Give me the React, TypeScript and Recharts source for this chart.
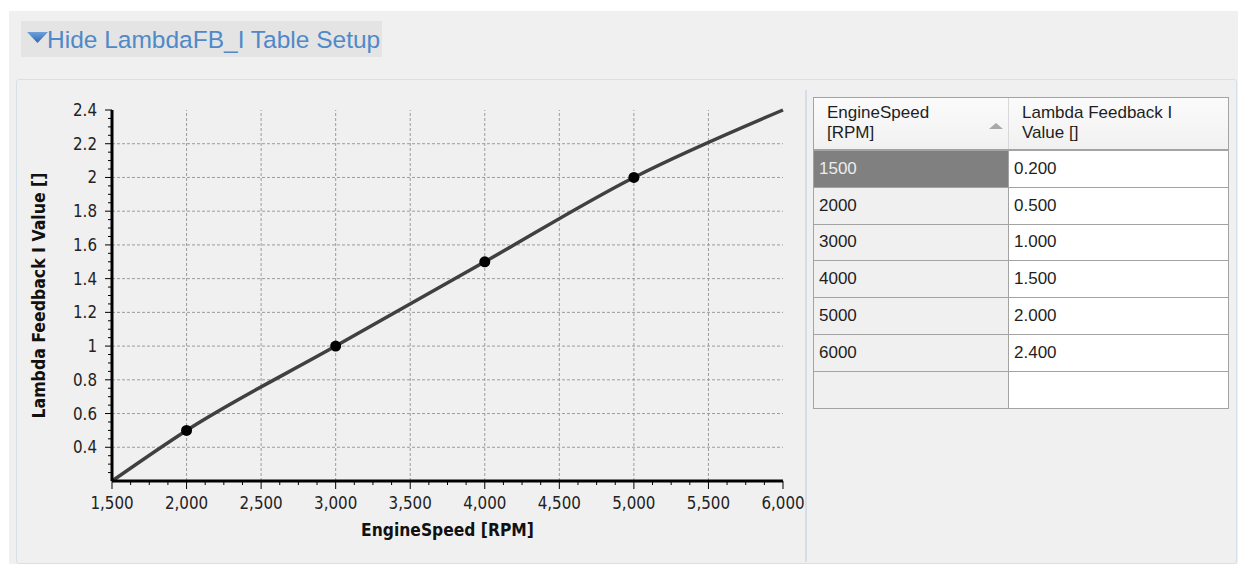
import React from "react"
import { Label, Line, LineChart, ReferenceLine, XAxis, YAxis } from "recharts"

const rpm = [1500, 2000, 3000, 4000, 5000, 6000]
const lambdaI = [0.2, 0.5, 1.0, 1.5, 2.0, 2.4]

const xTicks = [1500, 2000, 2500, 3000, 3500, 4000, 4500, 5000, 5500, 6000]
const yTicks = [0.4, 0.6, 0.8, 1, 1.2, 1.4, 1.6, 1.8, 2, 2.2, 2.4]
const xGrid = [2000, 2500, 3000, 3500, 4000, 4500, 5000, 5500]
const yGrid = [0.4, 0.6, 0.8, 1, 1.2, 1.4, 1.6, 1.8, 2, 2.2]

// minor ticks: every 125 rpm, every 0.05 on the value axis
const xMinor = Array.from({ length: 37 }, (_, i) => 1500 + i * 125).filter((v) => v % 500 !== 0)
const yMinor = Array.from({ length: 45 }, (_, i) => Math.round((0.2 + i * 0.05) * 100) / 100).filter(
  (v) => Math.round(v * 100) % 20 !== 0
)
const xAll = [...xTicks, ...xMinor].sort((a, b) => a - b)
const yAll = [...yTicks, ...yMinor].sort((a, b) => a - b)

const data = rpm.map((r, i) => ({ rpm: r, value: lambdaI[i] }))

const axisFont = "'DejaVu Sans Condensed', 'Liberation Sans', sans-serif"
const uiFont = "'Liberation Sans', Arial, sans-serif"

const X_TS = 8
const X_TM = 8
const Y_TS = 7
const Y_TM = 8

function XTick(props: any) {
  const { x, y, payload } = props
  const major = xTicks.includes(payload.value)
  const axisY = y - X_TS - X_TM
  return (
    <g>
      <line x1={x} x2={x} y1={axisY} y2={axisY + (major ? X_TS : 4)} stroke="#000" />
      {major && (
        <text x={x} y={y} dy="0.71em" textAnchor="middle" fontFamily={axisFont} fontSize={16.8} fill="#222">
          {payload.value.toLocaleString("en-US")}
        </text>
      )}
    </g>
  )
}

function YTick(props: any) {
  const { x, y, payload } = props
  const major = yTicks.includes(payload.value)
  const axisX = x + Y_TS + Y_TM
  return (
    <g>
      <line x1={axisX} x2={axisX - (major ? Y_TS : 4)} y1={y} y2={y} stroke="#000" />
      {major && (
        <text x={x} y={y} dy="0.355em" textAnchor="end" fontFamily={axisFont} fontSize={16.8} fill="#222">
          {String(payload.value)}
        </text>
      )}
    </g>
  )
}

function Dot(props: any) {
  const { cx, cy, index } = props
  if (index === 0 || index === data.length - 1) return <g key={"d" + index} />
  return <circle key={"d" + index} cx={cx} cy={cy} r={5.5} fill="#000" />
}

function ValueTable() {
  const border = "1px solid #a3a3a3"
  const rows = rpm.map((r, i) => [String(r), lambdaI[i].toFixed(3)])
  rows.push(["", ""])
  return (
    <div style={{ position: "absolute", left: 813, top: 97, width: 416, fontFamily: uiFont, fontSize: 17, color: "#1e1e1e" }}>
      <div style={{ display: "flex", height: 54, borderTop: border, borderLeft: border, borderRight: border, borderBottom: "2px solid #a3a3a3", background: "linear-gradient(#fbfbfb, #f1f1f1)", boxSizing: "border-box" }}>
        <div style={{ position: "relative", width: 195, borderRight: "1px solid #d8d8d8", padding: "5px 0 0 13px", lineHeight: "20px", boxSizing: "border-box" }}>
          EngineSpeed<br />[RPM]
          <div style={{ position: "absolute", left: 175, top: 25, width: 0, height: 0, borderLeft: "7px solid transparent", borderRight: "7px solid transparent", borderBottom: "6px solid #a9a9a9" }} />
        </div>
        <div style={{ flex: 1, padding: "5px 0 0 13px", lineHeight: "20px", boxSizing: "border-box" }}>
          Lambda Feedback I<br />Value []
        </div>
      </div>
      {rows.map((row, i) => (
        <div key={i} style={{ display: "flex", height: 36.8, borderLeft: border, borderRight: border, borderBottom: border, boxSizing: "border-box" }}>
          <div style={{ width: 195, borderRight: border, background: i === 0 ? "#808080" : "#f0f0f0", color: i === 0 ? "#ececec" : "#1e1e1e", display: "flex", alignItems: "center", paddingLeft: 5, boxSizing: "border-box" }}>
            {row[0]}
          </div>
          <div style={{ flex: 1, background: "#fff", display: "flex", alignItems: "center", paddingLeft: 5 }}>{row[1]}</div>
        </div>
      ))}
    </div>
  )
}

export default function App() {
  return (
    <div style={{ position: "absolute", left: 0, top: 0, width: 1238, height: 564, background: "#fff", overflow: "hidden" }}>
      <div style={{ position: "absolute", left: 9, top: 11, right: 0, bottom: 0, background: "#f0f0f0" }} />
      {/* collapsible header */}
      <div style={{ position: "absolute", left: 21, top: 21, width: 361, height: 36, background: "#e4e4e4" }}>
        <svg width={22} height={14} style={{ position: "absolute", left: 6, top: 11 }}>
          <defs>
            <linearGradient id="tri" x1="0" y1="0" x2="0" y2="1">
              <stop offset="0%" stopColor="#6fa2dc" />
              <stop offset="100%" stopColor="#2f66b0" />
            </linearGradient>
          </defs>
          <polygon points="0,0 21,0 10.5,11" fill="url(#tri)" />
        </svg>
        <div style={{ position: "absolute", left: 26, top: 5, fontFamily: uiFont, fontSize: 24.5, color: "#5089c8", whiteSpace: "nowrap" }}>
          Hide LambdaFB_I Table Setup
        </div>
      </div>
      {/* panel */}
      <div style={{ position: "absolute", left: 16, top: 79, width: 1219, height: 483, border: "1px solid #d6e0e9", borderRadius: 3, background: "#f0f0f0" }} />
      <div style={{ position: "absolute", left: 805, top: 90, width: 2, height: 472, background: "#d3deea" }} />

      <div style={{ position: "absolute", left: 20, top: 90 }}>
        <LineChart width={790} height={470} data={data} margin={{ top: 20, right: 27, bottom: 19, left: 0 }}>
          {yGrid.map((v) => (
            <ReferenceLine key={"h" + v} y={v} stroke="#9c9c9c" strokeDasharray="3 2" />
          ))}
          {xGrid.map((v) => (
            <ReferenceLine key={"v" + v} x={v} stroke="#9c9c9c" strokeDasharray="3 2" />
          ))}
          <XAxis
            dataKey="rpm"
            type="number"
            domain={[1500, 6000]}
            ticks={xAll}
            interval={0}
            height={60}
            tickSize={X_TS}
            tickMargin={X_TM}
            tick={<XTick />}
            tickLine={false}
            axisLine={{ stroke: "#000", strokeWidth: 3 }}
          >
            <Label
              content={({ viewBox }: any) => (
                <text x={viewBox.x + viewBox.width / 2} y={viewBox.y + 55} textAnchor="middle" fontFamily={axisFont} fontWeight="bold" fontSize={17.3} fill="#111">
                  EngineSpeed [RPM]
                </text>
              )}
            />
          </XAxis>
          <YAxis
            type="number"
            domain={[0.2, 2.4]}
            ticks={yAll}
            interval={0}
            width={92}
            tickSize={Y_TS}
            tickMargin={Y_TM}
            tick={<YTick />}
            tickLine={false}
            axisLine={{ stroke: "#000", strokeWidth: 3 }}
          >
            <Label
              content={({ viewBox }: any) => {
                const cx = viewBox.x + 20
                const cy = viewBox.y + viewBox.height / 2
                return (
                  <text x={cx} y={cy} transform={`rotate(-90 ${cx} ${cy})`} textAnchor="middle" dominantBaseline="middle" fontFamily={axisFont} fontWeight="bold" fontSize={17.5} fill="#111">
                    Lambda Feedback I Value []
                  </text>
                )
              }}
            />
          </YAxis>
          <Line type="monotone" dataKey="value" stroke="#404040" strokeWidth={3.5} dot={Dot} activeDot={false} isAnimationActive={false} />
        </LineChart>
      </div>

      <ValueTable />
    </div>
  )
}
